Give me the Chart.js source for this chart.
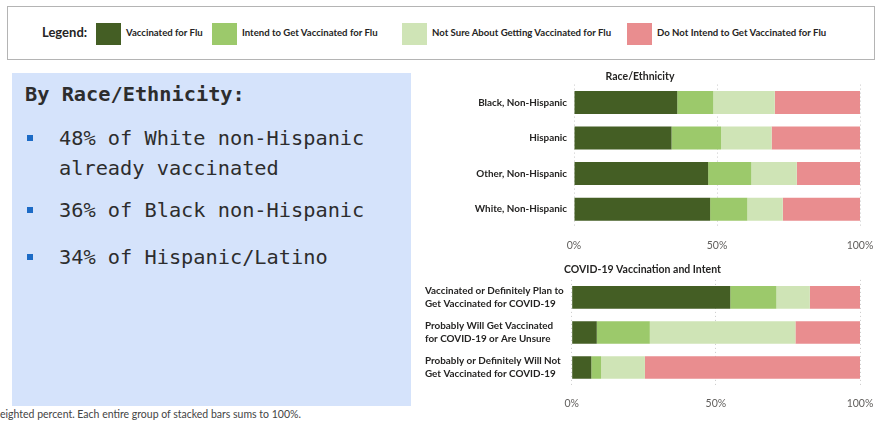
<!DOCTYPE html>
<html>
<head>
<meta charset="utf-8">
<script src="https://cdn.jsdelivr.net/npm/chart.js@4.4.0/dist/chart.umd.min.js"></script>
<style>
  body { margin: 0; width: 878px; height: 424px; background: #fff; position: relative; overflow: hidden; font-family: Lato, sans-serif; }
  .legend-box { position: absolute; left: 7px; top: 6px; width: 866px; height: 52px; border: 1px solid #b4b4b4; }
  .legend-title { position: absolute; left: 34px; top: 17px; font-size: 13px; font-weight: 700; color: #252423; }
  .swatch { position: absolute; top: 16px; width: 25px; height: 22px; }
  .legend-text { position: absolute; top: 20px; font-size: 9.6px; font-weight: 700; color: #252423; white-space: nowrap; }
  .panel { position: absolute; left: 12px; top: 73px; width: 399px; height: 333px; background: #d5e3fb; }
  .panel div { position: absolute; font-family: "DejaVu Sans Mono", monospace; font-size: 20.3px; color: #2d2d2d; white-space: nowrap; line-height: 24px; }
  .bullet { position: absolute; width: 6px; height: 6px; background: #1c6bc6; }
  .note { position: absolute; left: 0; top: 408px; font-size: 10.5px; color: #444; white-space: nowrap; }
  canvas { position: absolute; }
</style>
</head>
<body>
<div class="legend-box" id="legend">
  <div class="legend-title">Legend:</div>
</div>
<div class="panel" id="panel"></div>
<div class="note">eighted percent. Each entire group of stacked bars sums to 100%.</div>
<div style="position:absolute;left:420px;top:62px;width:458px;height:195px"><canvas id="race"></canvas></div>
<div style="position:absolute;left:420px;top:255px;width:458px;height:169px"><canvas id="covid"></canvas></div>
<script>
const fluStatus = ['Vaccinated for Flu', 'Intend to Get Vaccinated for Flu', 'Not Sure About Getting Vaccinated for Flu', 'Do Not Intend to Get Vaccinated for Flu'];
const statusColors = ['#445e24', '#9cc96b', '#cfe4b6', '#e98d8f'];

const raceGroups = ['Black, Non-Hispanic', 'Hispanic', 'Other, Non-Hispanic', 'White, Non-Hispanic'];
const raceVaccinated = [36.1, 34.1, 46.9, 47.6];
const raceIntend = [12.6, 17.3, 15.1, 13.0];
const raceNotSure = [21.5, 17.7, 15.9, 12.4];
const raceNotIntend = [29.8, 30.9, 22.1, 27.0];

const covidGroups = [
    ['Vaccinated or Definitely Plan to', 'Get Vaccinated for COVID-19'],
    ['Probably Will Get Vaccinated', 'for COVID-19 or Are Unsure'],
    ['Probably or Definitely Will Not', 'Get Vaccinated for COVID-19']
];
const covidVaccinated = [55.0, 8.7, 6.8];
const covidIntend = [16.0, 18.4, 3.4];
const covidNotSure = [11.6, 50.5, 15.2];
const covidNotIntend = [17.4, 22.4, 74.6];

const xTicks = [0, 50, 100];

const panelTitle = 'By Race/Ethnicity:';
const panelLines = [
    { text: '48% of White non-Hispanic', bullet: true },
    { text: 'already vaccinated', bullet: false },
    { text: '36% of Black non-Hispanic', bullet: true },
    { text: '34% of Hispanic/Latino', bullet: true }
];

// legend (html, outside the charts)
const legendX = [88, 204, 394, 619];
let legend = document.getElementById('legend');
fluStatus.forEach((name, i) => {
    let sw = document.createElement('div');
    sw.className = 'swatch';
    sw.style.left = legendX[i] + 'px';
    sw.style.background = statusColors[i];
    legend.appendChild(sw);
    let t = document.createElement('div');
    t.className = 'legend-text';
    t.style.left = (legendX[i] + 30) + 'px';
    t.textContent = name;
    legend.appendChild(t);
});

// text panel
const lineTops = [53, 83, 125, 172];
let panel = document.getElementById('panel');
let title = document.createElement('div');
title.textContent = panelTitle;
title.style.fontWeight = 'bold';
title.style.left = '13px';
title.style.top = '9px';
panel.appendChild(title);
panelLines.forEach((line, i) => {
    let d = document.createElement('div');
    d.textContent = line.text;
    d.style.left = '47px';
    d.style.top = lineTops[i] + 'px';
    panel.appendChild(d);
    if (line.bullet) {
        let b = document.createElement('span');
        b.className = 'bullet';
        b.style.left = '15px';
        b.style.top = (lineTops[i] + 9) + 'px';
        panel.appendChild(b);
    }
});

Chart.defaults.font.family = 'Lato';
Chart.defaults.color = '#605e5c';

function makeDatasets(values) {
    return fluStatus.map((name, i) => ({
        label: name,
        data: values[i],
        backgroundColor: statusColors[i],
        borderWidth: 0,
        stack: 'all',
        categoryPercentage: 0.645,
        barPercentage: 1
    }));
}

function makeOptions(titleText, yWidth, xHeight, titleBottom, crossAlign, padLeft) {
    return {
        indexAxis: 'y',
        responsive: true,
        maintainAspectRatio: false,
        animation: false,
        layout: { padding: { left: padLeft, right: 18, top: 0, bottom: 0 } },
        plugins: {
            legend: { display: false },
            tooltip: { enabled: false },
            title: {
                display: true,
                text: titleText,
                color: '#252423',
                font: { size: 10.5, weight: 'bold' },
                padding: { top: 8, bottom: titleBottom }
            }
        },
        scales: {
            x: {
                stacked: true,
                min: 0,
                max: 100,
                afterBuildTicks: (s) => { s.ticks = xTicks.map(v => ({ value: v })); },
                afterFit: (s) => { s.height = xHeight; s.paddingLeft = 0; s.paddingRight = 0; },
                ticks: { padding: 12, font: { size: 10.5 }, color: '#605e5c', callback: (v) => v + '%' },
                grid: { color: '#c9c9c9', drawTicks: false },
                border: { display: false, dash: [1, 3] }
            },
            y: {
                stacked: true,
                afterFit: (s) => { s.width = yWidth; },
                ticks: { padding: 7, crossAlign: crossAlign, color: '#252423', font: { size: 9.9, weight: 'bold', lineHeight: 1.25 } },
                grid: { display: false, drawTicks: false },
                border: { display: false }
            }
        }
    };
}

new Chart(document.getElementById('race'), {
    type: 'bar',
    data: {
        labels: raceGroups,
        datasets: makeDatasets([raceVaccinated, raceIntend, raceNotSure, raceNotIntend])
    },
    options: makeOptions('Race/Ethnicity', 154, 30, 2, 'near', 0)
});

new Chart(document.getElementById('covid'), {
    type: 'bar',
    data: {
        labels: covidGroups,
        datasets: makeDatasets([covidVaccinated, covidIntend, covidNotSure, covidNotIntend])
    },
    options: makeOptions('COVID-19 Vaccination and Intent', 146.7, 39, 4.3, 'far', 5)
});
</script>
</body>
</html>
